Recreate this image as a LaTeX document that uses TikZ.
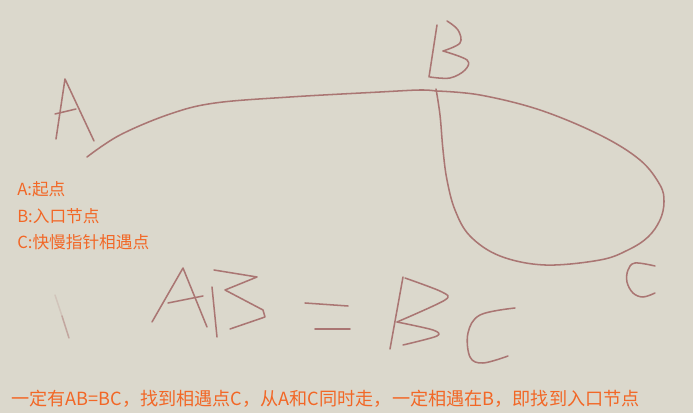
\documentclass[tikz,border=0pt]{standalone}
\usepackage{fontspec}
\setmainfont{Noto Sans CJK SC}
\definecolor{paper}{RGB}{219,216,204}
\definecolor{pencil}{RGB}{170,118,115}
\definecolor{notecol}{RGB}{242,103,38}

\begin{document}
\begin{tikzpicture}[x=0.75pt, y=-0.75pt,
    sketch/.style={draw=pencil, line width=1.15pt, line cap=round, line join=round},
    note/.style={text=notecol, font=\fontsize{12.5}{15}\selectfont, anchor=west, inner sep=0pt}]
    \fill[paper] (0,0) rectangle (693,413);
    \useasboundingbox (0,0) rectangle (693,413);

    % path from A to B, then the loop B -> C -> B
    \draw[sketch] plot[smooth, tension=0.6] coordinates {(87,157) (120,135) (170,114) (215,103) (290,97) (380,92) (420,90) (436,91)};
    \draw[sketch] plot[smooth, tension=0.6] coordinates {(436,91) (480,95) (540,110) (600,135) (640,160) (660,185) (664,202) (660,220) (648,237) (628,250) (600,260) (545,265) (500,256) (470,236) (455,210) (447,180) (443,150) (440,115) (436,89)};

    % letter A
    \draw[sketch] (56,139) -- (65,79) -- (94,141);
    \draw[sketch] (55,114) -- (76,109);
    % letter B
    \draw[sketch] (437,25) -- (429,77);
    \draw[sketch] plot[smooth, tension=0.6] coordinates {(447,21) (458,30) (460,43) (443,51)};
    \draw[sketch] plot[smooth, tension=0.6] coordinates {(443,51) (467,60) (465,70) (450,78) (430,77)};
    % letter C
    \draw[sketch] plot[smooth, tension=0.6] coordinates {(655,266) (635,263) (628,270) (627,282) (633,293) (643,297) (655,293)};

    % faint stroke on the left
    \draw[sketch, opacity=0.2] (55,295) -- (62,316);
    \draw[sketch, opacity=0.5] (62,316) -- (69,338);

    % AB = BC
    \draw[sketch] (152,322) -- (183,268) -- (207,327);
    \draw[sketch] (168,303) -- (203,296);
    \draw[sketch] (212,287) -- (217,337);
    \draw[sketch] (214,270) -- (257,277) -- (225,290) -- (263,310) -- (265,317) -- (230,329);
    \draw[sketch] (305,303) -- (348,306);
    \draw[sketch] (315,329) -- (350,329);
    \draw[sketch] (403,277) -- (390,349);
    \draw[sketch] plot[smooth, tension=0.5] coordinates {(405,278) (442,292) (445,300) (397,322)};
    \draw[sketch] plot[smooth, tension=0.5] coordinates {(397,322) (433,330) (437,336) (403,345)};
    \draw[sketch] plot[smooth, tension=0.6] coordinates {(515,308) (480,315) (468,333) (470,357) (483,363) (508,356)};

    % notes
    \node[note] (ptA) at (17,189) {A:起点};
    \node[note] (ptB) at (17,216) {B:入口节点};
    \node[note] (ptC) at (17,242) {C:快慢指针相遇点};
    \node[note, font=\fontsize{13.6}{16}\selectfont] (rule) at (11,399) {一定有AB=BC，找到相遇点C，从A和C同时走，一定相遇在B，即找到入口节点};
\end{tikzpicture}
\end{document}
